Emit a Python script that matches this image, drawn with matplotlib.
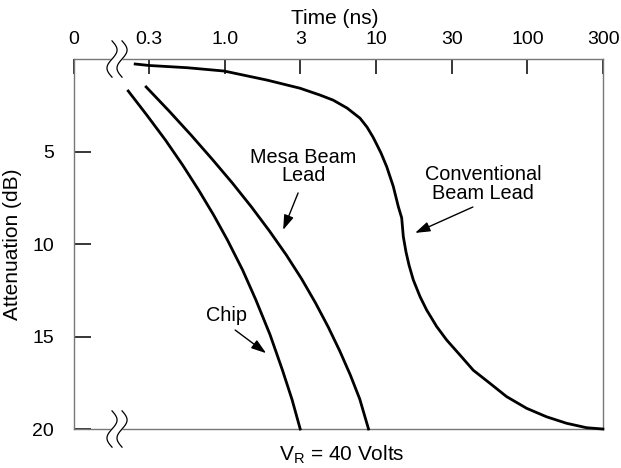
import numpy as np
import matplotlib
matplotlib.use('Agg')
import matplotlib.pyplot as plt
from matplotlib.ticker import NullLocator

plt.rcParams['font.family'] = ['Liberation Sans', 'DejaVu Sans']
plt.rcParams['mathtext.fontset'] = 'custom'
plt.rcParams['mathtext.rm'] = 'Liberation Sans'
plt.rcParams['mathtext.it'] = 'Liberation Sans:italic'

# values: time (ns) vs attenuation (dB)
chip_t = [0.230, 0.305, 0.405, 0.526, 0.671, 0.843, 1.04, 1.31, 1.60, 1.99,
          2.40, 2.78, 3.15]
chip_db = [1.73, 3.03, 4.38, 5.73, 7.08, 8.43, 9.78, 11.4, 13.0, 14.9,
           16.8, 18.4, 20.0]

mesa_t = [0.302, 0.428, 0.598, 0.824, 1.121, 1.501, 1.974, 2.548, 3.221,
          3.979, 4.827, 5.749, 6.754, 7.795, 8.91]
mesa_db = [1.51, 2.81, 4.11, 5.41, 6.70, 8.0, 9.30, 10.59, 11.89, 13.19,
           14.49, 15.78, 17.08, 18.38, 20.0]

conv_t = [0.2556, 0.3162, 0.5636, 0.9895, 1.903, 3.143, 4.262, 5.193, 6.425,
          7.830, 8.708, 9.539, 10.14, 10.77, 11.75, 12.99, 14.02, 14.76,
          15.13, 15.76, 16.50, 17.61, 19.50, 21.59, 25.13, 29.27, 35.83,
          43.85, 56.54, 72.89, 98.79, 133.9, 181.5, 246.0, 315.3]
conv_db = [0.27, 0.35, 0.47, 0.65, 1.14, 1.58, 1.95, 2.22, 2.65, 3.20, 3.68,
           4.22, 4.65, 5.08, 5.82, 6.89, 7.98, 8.59, 9.60, 10.43, 11.14, 11.94,
           12.84, 13.57, 14.46, 15.19, 16.0, 16.82, 17.53, 18.25, 18.88, 19.34,
           19.69, 19.93, 20.0]

xticks = [0.1, 10 ** -0.5, 1.0, 10 ** 0.5, 10, 10 ** 1.5, 100, 10 ** 2.5]
xlabels = ['0', '0.3', '1.0', '3', '10', '30', '100', '300']
yticks = [5, 10, 15, 20]

fig = plt.figure(figsize=(6.21, 4.68), dpi=100)
ax = fig.add_axes([0.1184, 0.0833, 0.8527, 0.7906])

for t, db in [(chip_t, chip_db), (mesa_t, mesa_db), (conv_t, conv_db)]:
    ax.plot(t, db, color='black', lw=2.0, clip_on=False, zorder=3,
            solid_joinstyle='round')

ax.set_xscale('log')
ax.set_xlim(0.1, 10 ** 2.5)
ax.set_ylim(20, 0)
ax.set_xticks(xticks)
ax.set_xticklabels(xlabels)
ax.xaxis.set_minor_locator(NullLocator())
ax.set_yticks(yticks)
ax.xaxis.tick_top()
ax.tick_params(axis='x', direction='in', length=10.8, width=1.1, color='black',
               pad=8, labelsize=14)
ax.tick_params(axis='y', direction='in', length=12, width=1.1, color='black',
               pad=14, labelsize=14)
for sp in ax.spines.values():
    sp.set_color('#777777')
    sp.set_linewidth(1.0)

fig.text(335 / 621, 1 - 18 / 468, 'Time (ns)', ha='center', va='center', fontsize=15)
ax.set_ylabel('Attenuation (dB)', fontsize=15)
ax.yaxis.set_label_coords(-0.097, 0.5)
fig.text(342 / 621, 1 - 455 / 468, r'V$_\mathrm{R}$ = 40 Volts', ha='center',
         va='center', fontsize=15)

arr = dict(arrowstyle='-|>,head_length=0.9,head_width=0.3', color='black',
           lw=1.0, shrinkA=0, shrinkB=0)
ax.text(3.29, 5.8, 'Mesa Beam\nLead', ha='center', va='center', fontsize=14.3,
        linespacing=0.95)
ax.annotate('', xy=(2.43, 9.24), xytext=(3.05, 7.24), arrowprops=arr)
ax.text(1.02, 13.84, 'Chip', ha='center', va='center', fontsize=14.3)
ax.annotate('', xy=(1.875, 15.9), xytext=(1.17, 14.65), arrowprops=arr)
ax.text(50.8, 6.76, 'Conventional\nBeam Lead', ha='center', va='center',
        fontsize=14.3, linespacing=0.95)
ax.annotate('', xy=(18.1, 9.4), xytext=(43.6, 8.0), arrowprops=arr)

# axis break marks
s = np.linspace(0, 1, 60)
for yc in (1.0, 0.0):
    yy = yc + 0.049 - 0.098 * s
    x1 = 0.0727 + 0.0095 * np.sin(2 * np.pi * s)
    x2 = 0.0916 + 0.0095 * np.sin(2 * np.pi * s)
    ax.fill(np.concatenate([x1, x2[::-1]]), np.concatenate([yy, yy[::-1]]),
            color='white', transform=ax.transAxes, clip_on=False, zorder=4)
    for xx in (x1, x2):
        ax.plot(xx, yy, color='black', lw=0.9, transform=ax.transAxes,
                clip_on=False, zorder=5)

fig.savefig('out.png', dpi=100)
